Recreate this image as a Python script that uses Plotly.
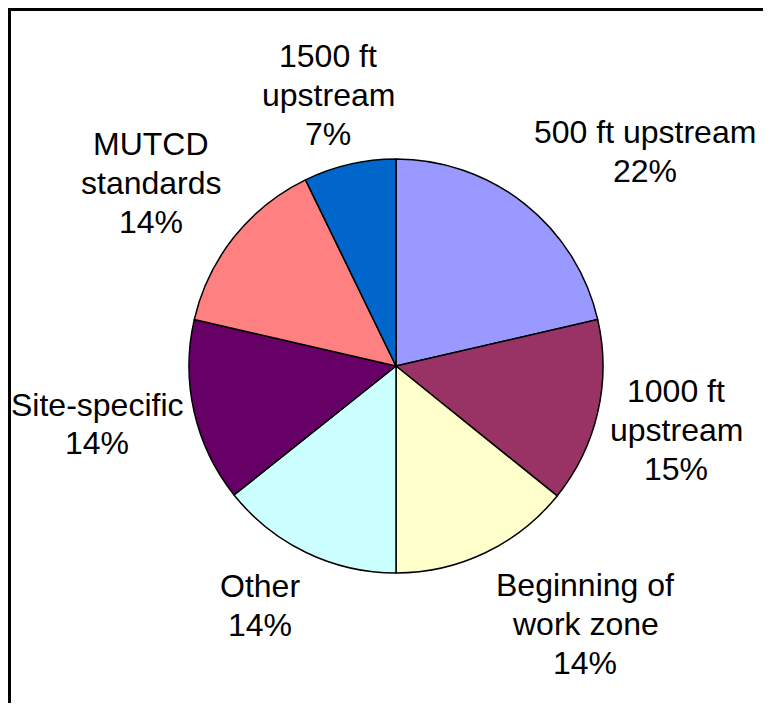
import plotly.graph_objects as go

categories = ["500 ft upstream", "1000 ft<br>upstream", "Beginning of<br>work zone",
              "Other", "Site-specific", "MUTCD<br>standards", "1500 ft<br>upstream"]
shares = [21.4, 14.4, 14.2, 14.3, 14.3, 14.2, 7.2]
share_labels = ["22%", "15%", "14%", "14%", "14%", "14%", "7%"]
colors = ["#9999FF", "#993366", "#FFFFCC", "#CCFFFF", "#660066", "#FF8080", "#0066CC"]

# page is offset by the 8px body margin; figure fills the rest of the window
W, H = 755, 695
cx, cy, r = 388, 358, 207

# label block centres (figure pixels), Excel-style "best fit" placement
label_pos = [(637, 143), (668, 422), (577, 616), (252, 597), (89, 416), (143, 175), (320, 87)]
LINE_H = 39

FONT = dict(family="Liberation Sans, Arial, sans-serif", size=32, color="black")

fig = go.Figure(go.Pie(
    labels=categories,
    values=shares,
    textposition="none",
    marker=dict(colors=colors, line=dict(color="black", width=1.5)),
    sort=False,
    direction="clockwise",
    rotation=0,
    showlegend=False,
    hoverinfo="skip",
    domain=dict(x=[(cx - r) / W, (cx + r) / W], y=[1 - (cy + r) / H, 1 - (cy - r) / H]),
))

annotations = []
for cat, pct, (px, py) in zip(categories, share_labels, label_pos):
    lines = cat.split("<br>") + [pct]
    n = len(lines)
    for i, ln in enumerate(lines):
        ly = py + (i - (n - 1) / 2) * LINE_H
        annotations.append(dict(
            text=ln, xref="paper", yref="paper",
            x=px / W, y=1 - ly / H, xanchor="center", yanchor="middle",
            showarrow=False, font=FONT, align="center",
        ))

fig.update_layout(
    width=W, height=H,
    margin=dict(l=0, r=0, t=0, b=0),
    paper_bgcolor="white",
    plot_bgcolor="white",
    annotations=annotations,
    shapes=[
        dict(type="line", xref="paper", yref="paper", x0=0, x1=1, y0=1 - 1.5 / H, y1=1 - 1.5 / H,
             line=dict(color="black", width=3)),
        dict(type="line", xref="paper", yref="paper", x0=1.5 / W, x1=1.5 / W, y0=0, y1=1,
             line=dict(color="black", width=3)),
    ],
)

fig.write_html("out.html")
